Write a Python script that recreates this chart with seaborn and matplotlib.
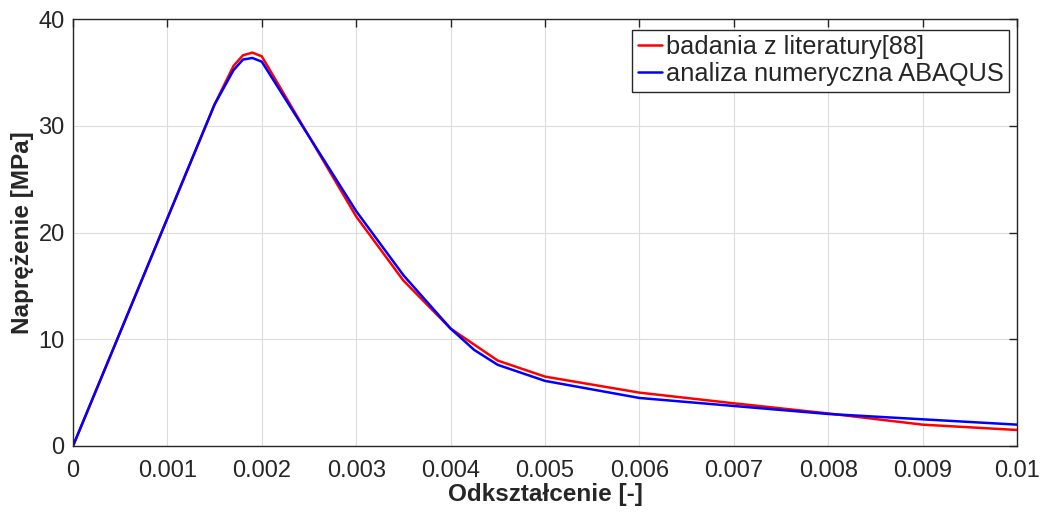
import numpy as np
import pandas as pd
import matplotlib
matplotlib.use("Agg")
import matplotlib.pyplot as plt
import seaborn as sns

sns.set_theme(style="whitegrid")
plt.rcParams['font.family'] = ['Liberation Sans', 'DejaVu Sans']

# badania z literatury [88]
x_lit = [0.0, 0.0015, 0.0017, 0.0018, 0.0019, 0.002, 0.003, 0.0035, 0.004,
         0.0045, 0.005, 0.006, 0.007, 0.008, 0.009, 0.01]
y_lit = [0.0, 32.0, 35.6, 36.6, 36.85, 36.5, 21.5, 15.5, 11.0,
         8.0, 6.5, 5.0, 4.0, 3.05, 2.0, 1.5]

# analiza numeryczna ABAQUS
x_num = [0.0, 0.0015, 0.0017, 0.0018, 0.0019, 0.002, 0.003, 0.0035, 0.004,
         0.00425, 0.0045, 0.005, 0.006, 0.007, 0.008, 0.009, 0.01]
y_num = [0.0, 32.0, 35.2, 36.2, 36.35, 36.0, 22.0, 16.0, 11.0,
         9.0, 7.6, 6.1, 4.5, 3.75, 3.0, 2.5, 2.0]

labels = ["badania z literatury[88]", "analiza numeryczna ABAQUS"]
xticks = [0, 0.001, 0.002, 0.003, 0.004, 0.005, 0.006, 0.007, 0.008, 0.009, 0.01]
xticklabels = ["0", "0.001", "0.002", "0.003", "0.004", "0.005", "0.006",
               "0.007", "0.008", "0.009", "0.01"]
yticks = [0, 10, 20, 30, 40]

fig = plt.figure(figsize=(10.46, 5.13), dpi=100)
ax = fig.add_axes([73 / 1046, 1 - 446 / 513, 944 / 1046, 427 / 513])

sns.lineplot(x=x_lit, y=y_lit, ax=ax, color="#ff0000", linewidth=1.8,
             label=labels[0], sort=False)
sns.lineplot(x=x_num, y=y_num, ax=ax, color="#0000ff", linewidth=1.8,
             label=labels[1], sort=False)

ax.set_xlim(0, 0.01)
ax.set_ylim(0, 40)
ax.set_xticks(xticks)
ax.set_xticklabels(xticklabels)
ax.set_yticks(yticks)
ax.set_facecolor("white")
ax.grid(True, color="#dcdcdc", linewidth=0.8)
for s in ax.spines.values():
    s.set_visible(True)
    s.set_color("#262626")
    s.set_linewidth(1.0)
ax.tick_params(axis="both", direction="in", length=6, width=1.0, color="#262626",
               top=True, right=True, labelsize=17, labelcolor="#262626", pad=6)
ax.tick_params(axis="x", pad=10)

ax.set_xlabel("Odkształcenie [-]", fontsize=17.5, fontweight="bold", labelpad=1)
ax.set_ylabel("Naprężenie [MPa]", fontsize=17.5, fontweight="bold", labelpad=3)

leg = ax.legend(loc="upper right", bbox_to_anchor=(0.9915, 0.975), fontsize=18.3,
                frameon=True, fancybox=False, framealpha=1, edgecolor="#262626",
                handlelength=0.95, handletextpad=0.15, borderpad=0.22,
                labelspacing=0.12, borderaxespad=0)
leg.get_frame().set_linewidth(1.0)

fig.savefig("out.png", dpi=100)
